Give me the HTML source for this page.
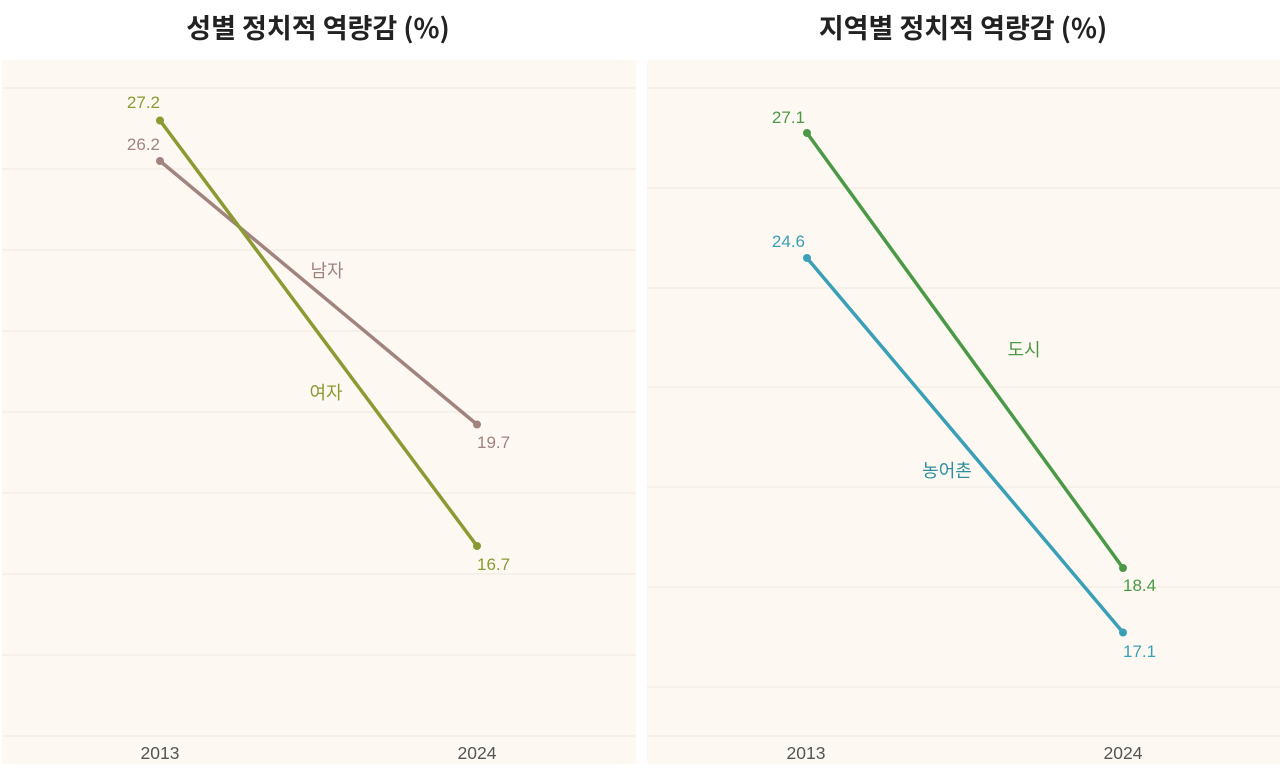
<!DOCTYPE html>
<html><head><meta charset="utf-8">
<style>
html,body{margin:0;padding:0;background:#fff;}
body{width:1280px;height:774px;overflow:hidden;}
svg{display:block;}
text{font-family:"Liberation Sans","Noto Sans CJK KR",sans-serif;}
.t{font-family:"Noto Sans CJK KR","Liberation Sans",sans-serif;font-weight:700;font-size:27px;fill:#222;}
.lab{font-size:17px;}
.ax{font-size:17.5px;fill:#555;}
.ko{font-family:"Noto Sans CJK KR","Liberation Sans",sans-serif;font-size:18px;}
</style></head>
<body>
<svg width="1280" height="774" viewBox="0 0 1280 774" xmlns="http://www.w3.org/2000/svg">
<rect x="0" y="0" width="1280" height="774" fill="#fff"/>
<!-- Titles -->
<text class="t" x="318" y="38" text-anchor="middle">성별 정치적 역량감 (%)</text>
<text class="t" x="963" y="38" text-anchor="middle">지역별 정치적 역량감 (%)</text>

<!-- Left panel -->
<rect x="2" y="60" width="634" height="704" fill="#fdf9f2"/>
<g stroke="#f1ece2" stroke-width="1.2">
<line x1="2" x2="636" y1="88" y2="88"/>
<line x1="2" x2="636" y1="169" y2="169"/>
<line x1="2" x2="636" y1="250" y2="250"/>
<line x1="2" x2="636" y1="331" y2="331"/>
<line x1="2" x2="636" y1="412" y2="412"/>
<line x1="2" x2="636" y1="493" y2="493"/>
<line x1="2" x2="636" y1="574" y2="574"/>
<line x1="2" x2="636" y1="655" y2="655"/>
<line x1="2" x2="636" y1="736" y2="736"/>
</g>
<line x1="160" y1="161" x2="477" y2="424.5" stroke="#a2847f" stroke-width="3.5" stroke-linecap="round"/>
<line x1="160" y1="120.5" x2="477" y2="546" stroke="#8c9a33" stroke-width="3.5" stroke-linecap="round"/>
<circle cx="160" cy="161" r="4" fill="#a2847f"/>
<circle cx="477" cy="424.5" r="4" fill="#a2847f"/>
<circle cx="160" cy="120.5" r="4" fill="#8c9a33"/>
<circle cx="477" cy="546" r="4" fill="#8c9a33"/>
<text class="lab" x="160" y="108" text-anchor="end" fill="#8c9a33">27.2</text>
<text class="lab" x="160" y="150" text-anchor="end" fill="#a2847f">26.2</text>
<text class="lab" x="477" y="448" fill="#a2847f">19.7</text>
<text class="lab" x="477" y="570" fill="#8c9a33">16.7</text>
<text class="ko" x="327" y="277" text-anchor="middle" fill="#a2847f">남자</text>
<text class="ko" x="326" y="399" text-anchor="middle" fill="#8c9a33">여자</text>
<text class="ax" x="160" y="759" text-anchor="middle">2013</text>
<text class="ax" x="477" y="759" text-anchor="middle">2024</text>

<!-- Right panel -->
<rect x="647" y="60" width="633" height="704" fill="#fdf9f2"/>
<g stroke="#f1ece2" stroke-width="1.2">
<line x1="647" x2="1280" y1="88" y2="88"/>
<line x1="647" x2="1280" y1="188" y2="188"/>
<line x1="647" x2="1280" y1="288" y2="288"/>
<line x1="647" x2="1280" y1="387" y2="387"/>
<line x1="647" x2="1280" y1="487" y2="487"/>
<line x1="647" x2="1280" y1="587" y2="587"/>
<line x1="647" x2="1280" y1="687" y2="687"/>
<line x1="647" x2="1280" y1="736" y2="736"/>
</g>
<line x1="807" y1="133" x2="1123" y2="568" stroke="#4a9946" stroke-width="3.5" stroke-linecap="round"/>
<line x1="807" y1="258" x2="1123" y2="632.5" stroke="#3aa0b8" stroke-width="3.5" stroke-linecap="round"/>
<circle cx="807" cy="133" r="4" fill="#4a9946"/>
<circle cx="1123" cy="568" r="4" fill="#4a9946"/>
<circle cx="807" cy="258" r="4" fill="#3aa0b8"/>
<circle cx="1123" cy="632.5" r="4" fill="#3aa0b8"/>
<text class="lab" x="805" y="123" text-anchor="end" fill="#4a9946">27.1</text>
<text class="lab" x="805" y="247" text-anchor="end" fill="#3aa0b8">24.6</text>
<text class="lab" x="1123" y="591" fill="#4a9946">18.4</text>
<text class="lab" x="1123" y="657" fill="#3aa0b8">17.1</text>
<text class="ko" x="1024" y="356" text-anchor="middle" fill="#4a9946">도시</text>
<text class="ko" x="947" y="477" text-anchor="middle" fill="#2f8f9f">농어촌</text>
<text class="ax" x="806" y="759" text-anchor="middle">2013</text>
<text class="ax" x="1123" y="759" text-anchor="middle">2024</text>
</svg>
</body></html>
